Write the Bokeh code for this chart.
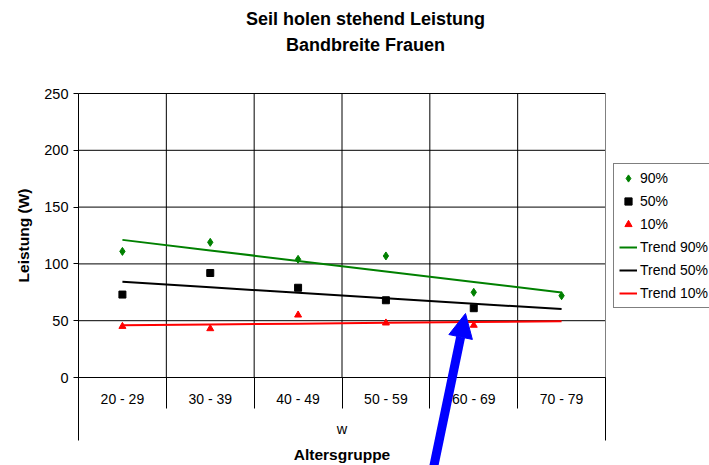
from bokeh.plotting import figure
from bokeh.models import (Range1d, Legend, LegendItem, Arrow, NormalHead, Label,
                          FixedTicker, LinearAxis)
from bokeh.embed import file_html
from bokeh.resources import INLINE
import numpy as np

# ---- data ----
ages = ["20 - 29", "30 - 39", "40 - 49", "50 - 59", "60 - 69", "70 - 79"]
group_label = "w"
p90 = [111, 119, 104, 107, 75, 72]
p50 = [73, 92, 79, 68, 61]
p10 = [45, 43, 55, 48, 46]
y_ticks = [0, 50, 100, 150, 200, 250]

FONT = "Liberation Sans"
W, H = 709, 465
# plot-area placement on the canvas (pixels)
L, T, FW, FH = 78, 93, 527, 284
YMAX = 250
n = len(ages)
idx = list(range(n))          # category slot index used as x position
lo, hi = -0.5, n - 0.5        # category slot boundaries
PX = FW / n

def dx(px):  # canvas pixel x -> data x
    return lo + (px - L) / PX

def dy(py):  # canvas pixel y -> data y
    return (T + FH - py) * YMAX / FH

p = figure(width=W, height=H, x_range=Range1d(dx(0), dx(W)), y_range=Range1d(dy(H), dy(0)),
           output_backend="svg", toolbar_location=None, title=None, min_border=0,
           outline_line_color=None, background_fill_color="white",
           border_fill_color="white")
p.xgrid.visible = False
p.ygrid.visible = False

# plot-area grid and border
gy = y_ticks[1:]
p.segment(x0=[lo] * len(gy), y0=gy, x1=[hi] * len(gy), y1=gy, line_color="black",
          line_width=1)
bx = [k - 0.5 for k in range(1, n)]
p.segment(x0=bx, y0=[0] * len(bx), x1=bx, y1=[YMAX] * len(bx), line_color="black",
          line_width=1)
p.segment(x0=[hi], y0=[0], x1=[hi], y1=[YMAX], line_color="#808080", line_width=1)

# y axis
ya = p.yaxis[0]
ya.fixed_location = lo
ya.bounds = (0, YMAX)
ya.ticker = FixedTicker(ticks=y_ticks)
ya.major_tick_out = 5
ya.major_tick_in = 0
ya.minor_tick_line_color = None
ya.axis_line_color = "black"
ya.major_label_text_font = FONT
ya.major_label_text_font_size = "14.5px"
ya.major_label_text_color = "black"
ya.major_label_standoff = 5
ya.axis_label = "Leistung (W)"
ya.axis_label_text_font = FONT
ya.axis_label_text_font_size = "15.5px"
ya.axis_label_text_font_style = "bold"
ya.axis_label_text_color = "black"
ya.axis_label_standoff = 9

# x axis with category labels
xa = p.xaxis[0]
xa.fixed_location = 0
xa.bounds = (lo, hi)
xa.ticker = FixedTicker(ticks=idx)
xa.major_label_overrides = {i: a for i, a in zip(idx, ages)}
xa.major_tick_out = 0
xa.major_tick_in = 0
xa.minor_tick_line_color = None
xa.axis_line_color = "black"
xa.major_label_text_font = FONT
xa.major_label_text_font_size = "14px"
xa.major_label_text_color = "black"
xa.major_label_standoff = 13
xa.axis_label = "Altersgruppe"
xa.axis_label_text_font = FONT
xa.axis_label_text_font_size = "15.5px"
xa.axis_label_text_font_style = "bold"
xa.axis_label_text_color = "black"
xa.axis_label_standoff = 36

# divider ticks between categories, and the longer outer ones of the group level
bounds_all = [k - 0.5 for k in range(n + 1)]
for ticks, length in ((bounds_all, 31), ([lo, hi], 63)):
    ax = LinearAxis(fixed_location=0, ticker=FixedTicker(ticks=ticks),
                    major_tick_out=length, major_tick_in=0,
                    minor_tick_line_color=None, axis_line_color=None,
                    major_tick_line_color="black", major_label_text_color=None)
    p.add_layout(ax, "below")

p.add_layout(Label(x=(lo + hi) / 2, y=dy(428), text=group_label, text_align="center",
                   text_baseline="middle", text_font=FONT, text_font_size="14.5px",
                   text_color="black"))

# trends (linear, forecast to last category)
def trend(vals):
    x = np.arange(len(vals))
    k, d = np.polyfit(x, vals, 1)
    return list(k * np.array(idx) + d)

t90 = p.line(idx, trend(p90), line_color="#008000", line_width=2)
t50 = p.line(idx, trend(p50), line_color="black", line_width=2)
t10 = p.line(idx, trend(p10), line_color="#FF0000", line_width=2)

s90 = p.scatter(idx[:len(p90)], p90, marker="diamond", size=8,
                fill_color="#008000", line_color="#008000")
s50 = p.scatter(idx[:len(p50)], p50, marker="square", size=7,
                fill_color="black", line_color="black")
s10 = p.scatter(idx[:len(p10)], p10, marker="triangle", size=7,
                fill_color="#FF0000", line_color="#FF0000")

legend = Legend(items=[
    LegendItem(label="90%", renderers=[s90]),
    LegendItem(label="50%", renderers=[s50]),
    LegendItem(label="10%", renderers=[s10]),
    LegendItem(label="Trend 90%", renderers=[t90]),
    LegendItem(label="Trend 50%", renderers=[t50]),
    LegendItem(label="Trend 10%", renderers=[t10]),
], location=(613, H - 308), border_line_color="black", border_line_width=1,
    label_text_font=FONT, label_text_font_size="14px", label_text_color="black",
    glyph_width=18, glyph_height=18, label_height=18, spacing=5, padding=5,
    label_standoff=3, margin=0, background_fill_color="white", background_fill_alpha=1)
p.add_layout(legend)

# title
for text, py in (("Seil holen stehend Leistung", 18), ("Bandbreite Frauen", 44)):
    p.add_layout(Label(x=dx(365), y=dy(py), text=text, text_align="center",
                       text_baseline="middle", text_font=FONT, text_font_size="18px",
                       text_font_style="bold", text_color="black"))

# blue pointer arrow
p.add_layout(Arrow(end=NormalHead(size=24, fill_color="#0000FF", line_color="#0000FF"),
                   x_start=dx(432), y_start=dy(472), x_end=dx(465), y_end=dy(313),
                   line_color="#0000FF", line_width=9))

open("out.html", "w").write(file_html(p, INLINE))
